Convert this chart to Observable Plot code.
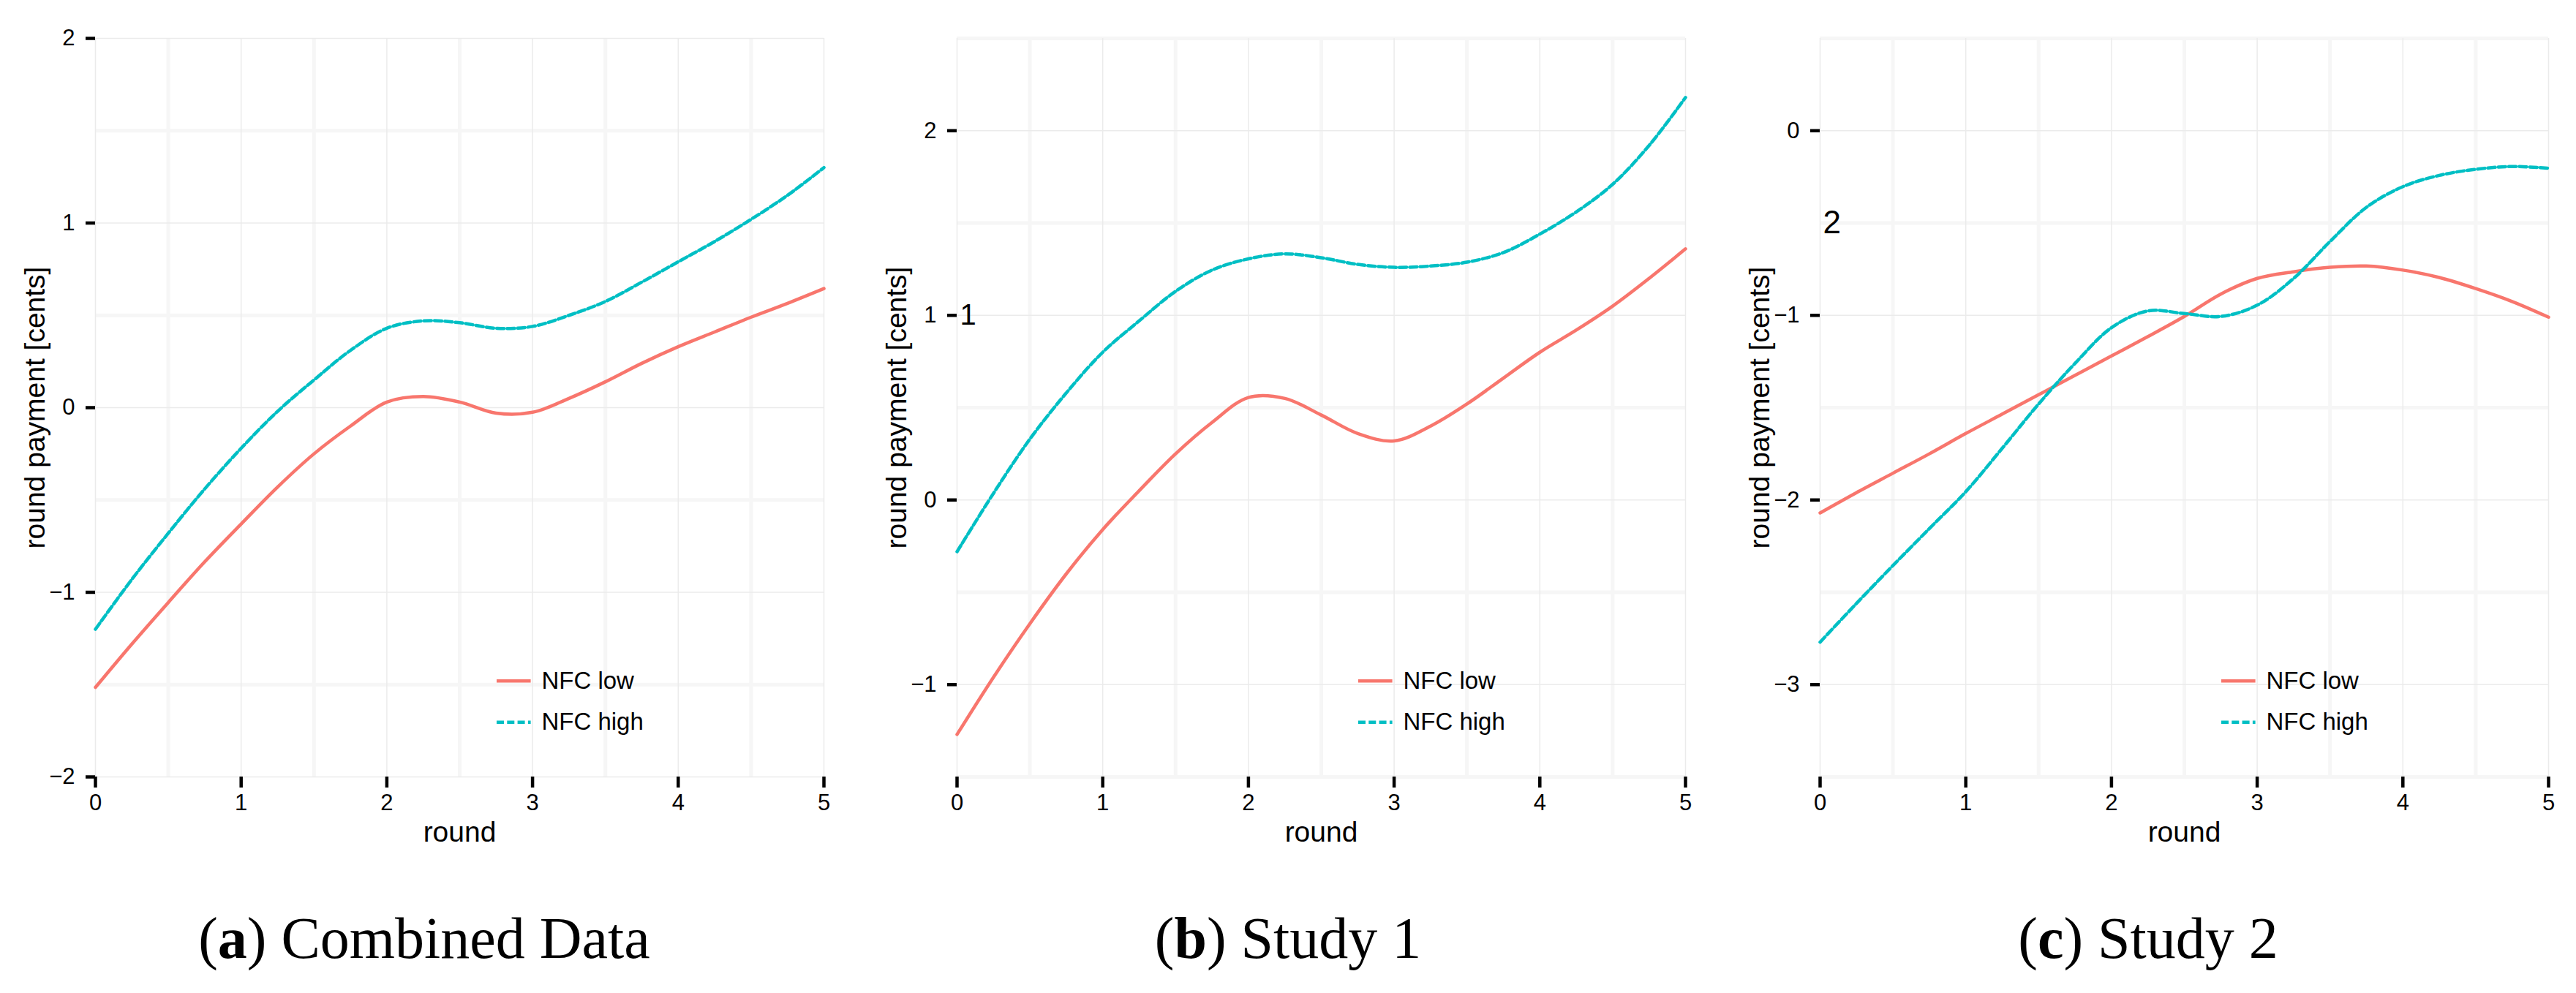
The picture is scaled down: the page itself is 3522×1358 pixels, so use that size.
<!DOCTYPE html>
<html>
<head>
<meta charset="utf-8">
<script src="https://cdn.jsdelivr.net/npm/d3@7"></script>
<script src="https://cdn.jsdelivr.net/npm/@observablehq/plot@0.6"></script>
<style>
  html, body { margin: 0; padding: 0; background: #fff; }
  #page { position: relative; width: 3522px; height: 1358px; background: #fff; overflow: hidden; }
  .panel { position: absolute; top: 0; width: 1178px; height: 1200px; }
  .panel svg { max-width: none !important; width: 1178px; height: 1200px; display: block; }
  .cap { position: absolute; top: 1243px; width: 800px; text-align: center; white-space: nowrap;
         font-family: "Liberation Serif", "Times New Roman", serif; font-size: 80px; line-height: 1; color: #000; }
</style>
</head>
<body>
<div id="page"></div>
<script>
// ---------- data ----------
const rounds = [0, 0.25, 0.5, 0.75, 1, 1.25, 1.5, 1.75, 2, 2.25, 2.5, 2.75, 3, 3.25, 3.5, 3.75, 4, 4.25, 4.5, 4.75, 5];

const combinedLow  = [-1.515, -1.28, -1.055, -0.835, -0.63, -0.43, -0.25, -0.1, 0.03, 0.06, 0.03, -0.03, -0.025, 0.05, 0.14, 0.24, 0.33, 0.41, 0.49, 0.565, 0.645];
const combinedHigh = [-1.2, -0.93, -0.68, -0.44, -0.22, -0.02, 0.15, 0.31, 0.43, 0.47, 0.46, 0.43, 0.44, 0.5, 0.575, 0.68, 0.79, 0.9, 1.02, 1.15, 1.3];

const study1Low  = [-1.27, -0.96, -0.67, -0.4, -0.16, 0.05, 0.25, 0.42, 0.555, 0.55, 0.46, 0.36, 0.32, 0.4, 0.52, 0.66, 0.8, 0.92, 1.05, 1.2, 1.36];
const study1High = [-0.28, 0.036, 0.33, 0.58, 0.8, 0.97, 1.13, 1.245, 1.306, 1.333, 1.312, 1.276, 1.26, 1.267, 1.288, 1.34, 1.44, 1.56, 1.71, 1.92, 2.18];

const study2Low  = [-2.07, -1.96, -1.855, -1.75, -1.64, -1.535, -1.43, -1.325, -1.22, -1.115, -1.006, -0.885, -0.8, -0.764, -0.74, -0.733, -0.755, -0.795, -0.855, -0.925, -1.01];
const study2High = [-2.77, -2.56, -2.355, -2.155, -1.955, -1.72, -1.48, -1.26, -1.067, -0.976, -0.99, -1.006, -0.945, -0.8, -0.6, -0.415, -0.303, -0.242, -0.209, -0.194, -0.203];

const seriesNames = ["NFC low", "NFC high"];
const seriesColors = ["#F8766D", "#00BFC4"];

const xMajor = [0, 1, 2, 3, 4, 5];
const xMinor = [0.5, 1.5, 2.5, 3.5, 4.5];

const yDomainA = [-2, 2];
const yMajorA = [-2, -1, 0, 1, 2];
const yMinorA = [-1.5, -0.5, 0.5, 1.5];

const yDomainB = [-1.5, 2.5];
const yMajorB = [-1, 0, 1, 2];
const yMinorB = [-1.5, -0.5, 0.5, 1.5, 2.5];

const yDomainC = [-3.5, 0.5];
const yMajorC = [-3, -2, -1, 0];
const yMinorC = [-3.5, -2.5, -1.5, -0.5, 0.5];

// stray overprinted labels visible in the source figure
const strayB = [{x: 0, y: 1, t: "1", size: 40}];
const strayC = [{x: 0, y: -0.5, t: "2", size: 44}];

const captionLetters = ["a", "b", "c"];
const captionTexts = ["Combined Data", "Study 1", "Study 2"];

const xLabel = "round";
const yLabel = "round payment [cents]";

// ---------- build ----------
const FONT = "'Liberation Sans', Arial, Helvetica, sans-serif";
const W = 1178, H = 1200, ML = 130, MR = 52, MT = 52, MB = 138;
const fmt = d => (d < 0 ? "\u2212" + Math.abs(d) : String(d));

function toRows(low, high) {
  const rows = [];
  rounds.forEach((r, i) => rows.push({round: r, value: low[i], series: seriesNames[0]}));
  rounds.forEach((r, i) => rows.push({round: r, value: high[i], series: seriesNames[1]}));
  return rows;
}

function panel(low, high, yDomain, yMajor, yMinor, stray) {
  const rows = toRows(low, high);
  const [y0, y1] = yDomain;
  const legendFrac = [0.870, 0.926];
  const legend = seriesNames.map((s, i) => ({
    series: s,
    y: y1 - legendFrac[i] * (y1 - y0),
    color: seriesColors[i],
    dash: i === 0 ? null : "10,4.3"
  }));
  return Plot.plot({
    width: W, height: H,
    marginLeft: ML, marginRight: MR, marginTop: MT, marginBottom: MB,
    style: {fontFamily: FONT, fontSize: "31px", color: "black", background: "white", overflow: "visible"},
    x: {domain: [0, 5], label: null},
    y: {domain: yDomain, label: null},
    marks: [
      Plot.gridX(xMinor, {stroke: "#f6f6f6", strokeOpacity: 1, strokeWidth: 5}),
      Plot.gridY(yMinor, {stroke: "#f6f6f6", strokeOpacity: 1, strokeWidth: 5}),
      Plot.gridX(xMajor, {stroke: "#ebebeb", strokeOpacity: 1, strokeWidth: 1.5}),
      Plot.gridY(yMajor, {stroke: "#ebebeb", strokeOpacity: 1, strokeWidth: 1.5}),
      // tick marks (thick, black) drawn as zero-length rules extended outward by negative insets
      Plot.ruleX(xMajor, {x: d => d, y1: y0, y2: y0, insetBottom: -15, stroke: "black", strokeWidth: 4.5}),
      Plot.ruleY(yMajor, {y: d => d, x1: 0, x2: 0, insetLeft: -13, stroke: "black", strokeWidth: 4.5}),
      Plot.axisX(xMajor, {tickSize: 0, tickPadding: 23, fill: "black", fontSize: 31, label: null, tickFormat: fmt}),
      Plot.axisY(yMajor, {tickSize: 0, tickPadding: 28, fill: "black", fontSize: 31, label: null, tickFormat: fmt}),
      Plot.text([xLabel], {text: d => d, frameAnchor: "bottom", textAnchor: "middle", lineAnchor: "top", dy: 61, fontSize: 39, fill: "black"}),
      Plot.text([yLabel], {text: d => d, frameAnchor: "left", textAnchor: "middle", lineAnchor: "middle", rotate: -90, dx: -82, fontSize: 39, fill: "black"}),
      Plot.line(rows.filter(d => d.series === seriesNames[0]), {x: "round", y: "value", stroke: seriesColors[0], strokeWidth: 4.5, curve: "catmull-rom"}),
      Plot.line(rows.filter(d => d.series === seriesNames[1]), {x: "round", y: "value", stroke: seriesColors[1], strokeWidth: 4.5, strokeDasharray: "10,4.3", curve: "catmull-rom"}),
      Plot.ruleY(legend.filter(d => !d.dash), {y: "y", x1: 2.756, x2: 2.99, stroke: "color", strokeWidth: 4.5}),
      Plot.ruleY(legend.filter(d => d.dash), {y: "y", x1: 2.756, x2: 2.99, stroke: "color", strokeWidth: 4.5, strokeDasharray: "10,4.3"}),
      Plot.text(legend, {x: 3.062, y: "y", text: "series", textAnchor: "start", lineAnchor: "middle", fontSize: 33, fill: "black"}),
      Plot.text(stray, {x: "x", y: "y", text: "t", fontSize: d => d.size, dx: 4, textAnchor: "start", lineAnchor: "middle", fill: "black"})
    ]
  });
}

const page = document.getElementById("page");
const specs = [
  [combinedLow, combinedHigh, yDomainA, yMajorA, yMinorA, [], 0],
  [study1Low, study1High, yDomainB, yMajorB, yMinorB, strayB, 1178],
  [study2Low, study2High, yDomainC, yMajorC, yMinorC, strayC, 2358]
];
specs.forEach(([lo, hi, dom, maj, mnr, stray, left]) => {
  const svg = panel(lo, hi, dom, maj, mnr, stray);
  svg.style.maxWidth = "none";
  const wrap = document.createElement("div");
  wrap.className = "panel";
  wrap.style.left = left + "px";
  wrap.appendChild(svg);
  page.appendChild(wrap);
});

const capCenters = [580, 1761, 2937];
captionLetters.forEach((l, i) => {
  const d = document.createElement("div");
  d.className = "cap";
  d.style.left = (capCenters[i] - 400) + "px";
  d.innerHTML = "(<b>" + l + "</b>) " + captionTexts[i];
  page.appendChild(d);
});
</script>
</body>
</html>
